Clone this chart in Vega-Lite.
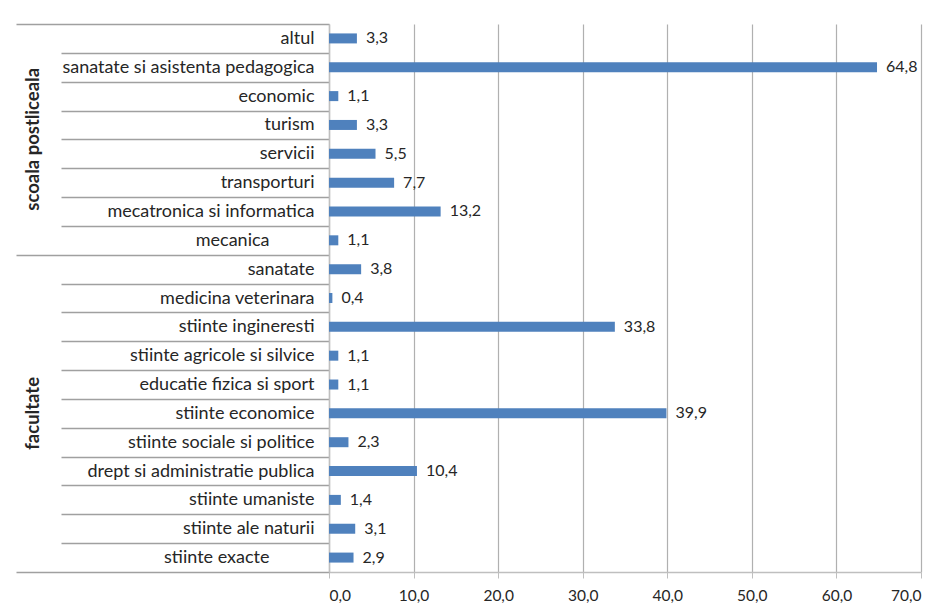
{
  "$schema": "https://vega.github.io/schema/vega-lite/v6.json",
  "width": 592,
  "height": 548,
  "padding": {"left": 15, "top": 15, "right": 5, "bottom": 5},
  "autosize": {"type": "pad"},
  "background": "white",
  "config": {
    "locale": {"number": {"decimal": ",", "thousands": ".", "grouping": [3], "currency": ["", ""]}},
    "view": {"stroke": null},
    "font": "Lato"
  },
  "data": {
    "values": [
      {"grup": "scoala postliceala", "domeniu": "altul", "procent": 3.3},
      {"grup": "scoala postliceala", "domeniu": "sanatate si asistenta pedagogica", "procent": 64.8},
      {"grup": "scoala postliceala", "domeniu": "economic", "procent": 1.1},
      {"grup": "scoala postliceala", "domeniu": "turism", "procent": 3.3},
      {"grup": "scoala postliceala", "domeniu": "servicii", "procent": 5.5},
      {"grup": "scoala postliceala", "domeniu": "transporturi", "procent": 7.7},
      {"grup": "scoala postliceala", "domeniu": "mecatronica si informatica", "procent": 13.2},
      {"grup": "scoala postliceala", "domeniu": "mecanica", "procent": 1.1},
      {"grup": "facultate", "domeniu": "sanatate", "procent": 3.8},
      {"grup": "facultate", "domeniu": "medicina veterinara", "procent": 0.4},
      {"grup": "facultate", "domeniu": "stiinte ingineresti", "procent": 33.8},
      {"grup": "facultate", "domeniu": "stiinte agricole si silvice", "procent": 1.1},
      {"grup": "facultate", "domeniu": "educatie fizica si sport", "procent": 1.1},
      {"grup": "facultate", "domeniu": "stiinte economice", "procent": 39.9},
      {"grup": "facultate", "domeniu": "stiinte sociale si politice", "procent": 2.3},
      {"grup": "facultate", "domeniu": "drept si administratie publica", "procent": 10.4},
      {"grup": "facultate", "domeniu": "stiinte umaniste", "procent": 1.4},
      {"grup": "facultate", "domeniu": "stiinte ale naturii", "procent": 3.1},
      {"grup": "facultate", "domeniu": "stiinte exacte", "procent": 2.9}
    ]
  },
  "layer": [
    {
      "mark": {"type": "bar", "size": 10, "color": "#4F81BD"},
      "encoding": {
        "y": {
          "field": "domeniu", "type": "nominal", "sort": null,
          "scale": {"paddingInner": 0, "paddingOuter": 0},
          "axis": {
            "title": null, "orient": "left",
            "tickBand": "extent",
            "tickSize": {"condition": {"test": "!isValid(datum.value) || datum.value === 'mecanica' || datum.value === 'stiinte exacte'", "value": 313}, "value": 268},
            "tickColor": "#a0a0a0", "tickWidth": 1.5,
            "domainColor": "#bfbfbf", "domainWidth": 1.5,
            "labelPadding": -253, "labelFontSize": 18, "labelColor": "#262626", "labelLimit": 400
          }
        },
        "x": {
          "field": "procent", "type": "quantitative",
          "scale": {"domain": [0, 70]},
          "axis": {
            "title": null, "values": [0, 10, 20, 30, 40, 50, 60, 70], "format": ".1f",
            "grid": true, "gridColor": "#b0b0b0", "gridWidth": 1.2,
            "domainColor": "#bfbfbf", "domainWidth": 1.5,
            "tickColor": "#bfbfbf", "tickSize": 6,
            "labelPadding": 10, "labelFontSize": 15.5, "labelColor": "#262626"
          }
        }
      }
    },
    {
      "mark": {"type": "text", "align": "left", "baseline": "middle", "dx": 9, "fontSize": 16, "color": "#262626"},
      "encoding": {
        "y": {
          "field": "domeniu", "type": "nominal", "sort": null,
          "axis": {
            "title": null, "orient": "left",
            "values": ["turism", "stiinte economice"],
            "ticks": false, "domain": false, "grid": false,
            "labelAngle": 270, "labelAlign": "center", "labelBaseline": "middle",
            "labelPadding": 297,
            "labelOffset": {"condition": {"test": "datum.value === 'turism'", "value": 14.4}, "value": 0},
            "labelExpr": "datum.value === 'turism' ? 'scoala postliceala' : 'facultate'",
            "labelFontSize": 18.5, "labelFontWeight": "bold", "labelColor": "#262626"
          }
        },
        "x": {"field": "procent", "type": "quantitative"},
        "text": {"field": "procent", "type": "quantitative", "format": ".1f"}
      }
    }
  ],
  "resolve": {"axis": {"y": "independent"}}
}
